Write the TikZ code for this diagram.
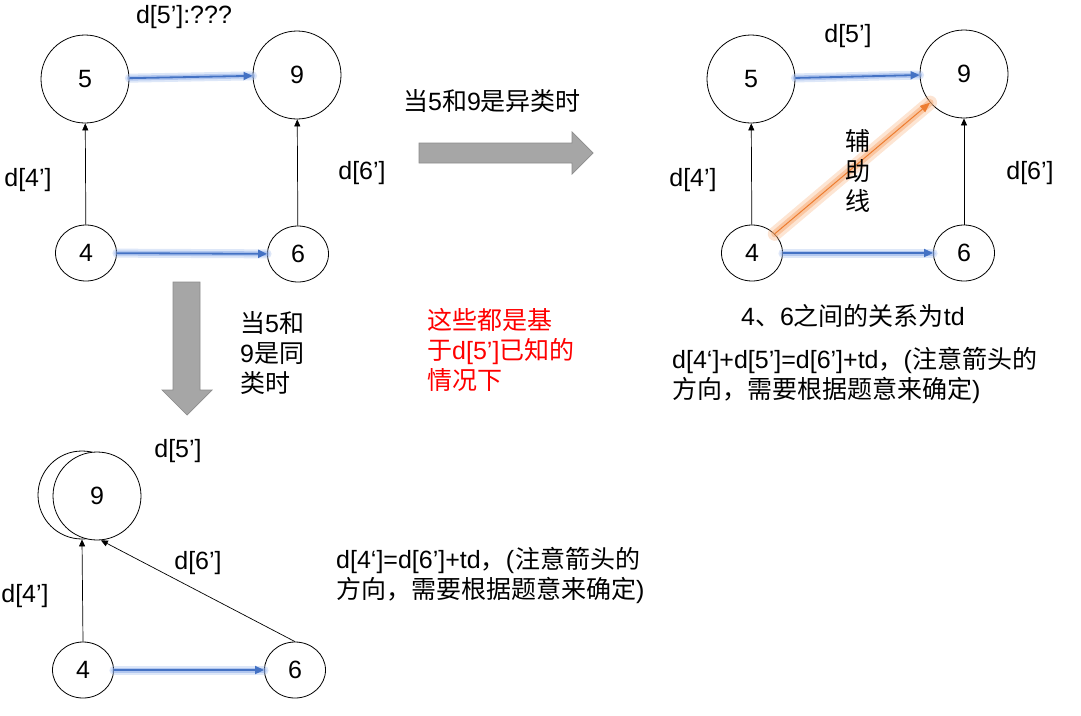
\documentclass[tikz,border=0pt]{standalone}
\usepackage{fontspec}
\setmainfont{Liberation Sans}
\newfontfamily\cjk{Noto Sans CJK SC}
\usetikzlibrary{arrows.meta,shapes.geometric}
\definecolor{ablue}{HTML}{4472C4}
\definecolor{aglow}{HTML}{8FAEE8}
\definecolor{aorange}{HTML}{ED7D31}
\definecolor{oglow}{HTML}{F7A86E}
\definecolor{agray}{HTML}{A6A6A6}
\definecolor{agrayd}{HTML}{8C8C8C}
\definecolor{ared}{HTML}{FF0000}
\begin{document}
\begin{tikzpicture}[x=1pt,y=-1pt,
  big/.style={circle, draw, line width=0.8pt, minimum size=88pt, inner sep=0pt, fill=white, font=\fontsize{25}{30}\selectfont},
  small/.style={ellipse, draw, line width=0.8pt, minimum width=61pt, minimum height=56pt, inner sep=0pt, fill=white, font=\fontsize{25}{30}\selectfont},
  lbl/.style={font=\fontsize{25}{30}\selectfont, inner sep=0pt},
  blk/.style={-{Triangle[width=6pt,length=7pt]}, line width=0.7pt},
  glowb/.style={line width=9pt, draw=aglow, opacity=0.3, line cap=round},
  glowb2/.style={line width=5pt, draw=aglow, opacity=0.55, line cap=round},
  bluearr/.style={-{Triangle[width=8pt,length=9pt]}, line width=1.8pt, draw=ablue},
  glowo/.style={line width=14pt, draw=oglow, opacity=0.3, line cap=round},
  glowo2/.style={line width=7pt, draw=oglow, opacity=0.5, line cap=round},
  orarr/.style={-{Triangle[width=8pt,length=10pt]}, line width=1pt, draw=aorange},
  bigarrow/.style={fill=agray, draw=agrayd, line width=0.7pt}
]
\useasboundingbox (0,0) rectangle (1081,715);

% ---------- top-left graph ----------
\node[big] (a5) at (85,79) {5};
\node[big] (a9) at (297,75) {9};
\node[small] (a4) at (86,253) {4};
\node[small] (a6) at (298,254) {6};
\draw[blk] (a4) -- (a5);
\draw[blk] (a6) -- (a9);
\draw[glowb] (a5) -- (a9);
\draw[glowb2] (a5) -- (a9);
\draw[bluearr] (a5) -- (a9);
\draw[glowb] (a4) -- (a6);
\draw[glowb2] (a4) -- (a6);
\draw[bluearr] (a4) -- (a6);
\node[lbl] (ta1) at (184,17) {d[5’]:???};
\node[lbl] (ta2) at (28,180) {d[4’]};
\node[lbl] (ta3) at (362,173) {d[6’]};

% ---------- right gray arrow ----------
\draw[bigarrow] (419,143) -- (572,143) -- (572,132) -- (593,153) -- (572,174) -- (572,163) -- (419,163) -- cycle;
\node[lbl] (tr) at (492,101) {{\cjk 当}5{\cjk 和}9{\cjk 是异类时}};

% ---------- top-right graph ----------
\node[big] (b5) at (751,79) {5};
\node[big] (b9) at (964,74) {9};
\node[small] (b4) at (752,253) {4};
\node[small] (b6) at (964,253) {6};
\draw[blk] (b4) -- (b5);
\draw[blk] (b6) -- (b9);
\draw[glowb] (b5) -- (b9);
\draw[glowb2] (b5) -- (b9);
\draw[bluearr] (b5) -- (b9);
\draw[glowb] (b4) -- (b6);
\draw[glowb2] (b4) -- (b6);
\draw[bluearr] (b4) -- (b6);
\draw[glowo] (b4) -- (b9);
\draw[glowo2] (b4) -- (b9);
\draw[orarr] (b4) -- (b9);
\node[lbl] (tb1) at (848,36) {d[5’]};
\node[lbl] (tb2) at (693,180) {d[4’]};
\node[lbl] (tb3) at (1030,173) {d[6’]};
\node[lbl, align=center, font=\fontsize{25}{30}\selectfont\cjk] (tb4) at (858,171) {辅\\助\\线};
\node[lbl] (tb5) at (853,316) {4{\cjk 、}6{\cjk 之间的关系为}td};
\node[lbl, anchor=west, align=left] (tb6) at (672,375) {d[4‘]+d[5’]=d[6’]+td{\cjk ，}(\kern1pt{\cjk 注意箭头的}\\{\cjk 方向，需要根据题意来确定})};

% ---------- down gray arrow ----------
\draw[bigarrow] (173,282) -- (200,282) -- (200,390) -- (212,390) -- (187,415) -- (162,390) -- (173,390) -- cycle;
\node[lbl, anchor=west, align=left] (td) at (240,353) {{\cjk 当}5{\cjk 和}\\9{\cjk 是同}\\{\cjk 类时}};
\node[lbl, anchor=west, align=left, text=ared] (tred) at (427,350) {{\cjk 这些都是基}\\{\cjk 于}d[5’]{\cjk 已知的}\\{\cjk 情况下}};

% ---------- bottom graph ----------
\node[big] (c9back) at (82,495) {};
\node[big] (c9) at (97,496) {9};
\node[small] (c4) at (83,670) {4};
\node[small] (c6) at (295,670) {6};
\draw[blk] (c4.north) -- (c9back.south);
\draw[blk] (c6.north) -- (c9.-85);
\draw[glowb] (c4) -- (c6);
\draw[glowb2] (c4) -- (c6);
\draw[bluearr] (c4) -- (c6);
\node[lbl] (tc1) at (178,451) {d[5’]};
\node[lbl] (tc2) at (25,596) {d[4’]};
\node[lbl] (tc3) at (198,563) {d[6’]};
\node[lbl, anchor=west, align=left] (tc4) at (336,575) {d[4‘]=d[6’]+td{\cjk ，}(\kern1pt{\cjk 注意箭头的}\\{\cjk 方向，需要根据题意来确定})};
\end{tikzpicture}
\end{document}
